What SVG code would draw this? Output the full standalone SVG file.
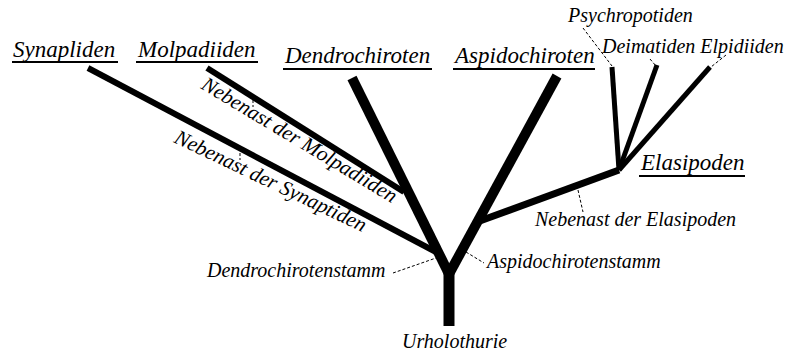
<svg xmlns="http://www.w3.org/2000/svg" width="786" height="353" viewBox="0 0 786 353">
<style>
.t{font-family:"Liberation Serif","DejaVu Serif",serif;font-style:italic;fill:#000}
.h{font-size:23px}
.l{font-size:20px}
.ul{stroke:#000;stroke-width:2}
.br{fill:none;stroke:#000;stroke-linejoin:round;stroke-linecap:butt}
.ld{fill:none;stroke:#000;stroke-width:1;stroke-dasharray:3 2}
</style>
<rect width="786" height="353" fill="#fff"/>
<g id="connectors">
<path class="br" stroke-width="11" d="M449,326 L449,272"/>
<path class="br" stroke-width="10" d="M449,274 L352,78"/>
<path class="br" stroke-width="10" d="M449,274 L557,76"/>
<path class="br" stroke-width="6" d="M88,68 L436,252"/>
<path class="br" stroke-width="6" d="M207,68 L404,192"/>
<path class="br" stroke-width="7" d="M477,222 L619,170"/>
<path class="br" stroke-width="5" d="M612,67 L619,170"/>
<path class="br" stroke-width="5" d="M657,65 L619,170"/>
<path class="br" stroke-width="5" d="M710,67 L619,170"/>
<path class="ld" d="M583,28 L612,66"/>
<path class="ld" d="M650,59 L656,66"/>
<path class="ld" d="M726,55 L711,67"/>
<path class="ld" d="M578,190 L583,212"/>
<path class="ld" d="M466,252 L484,263"/>
<path class="ld" d="M393,273 L436,258"/>
<path class="ld" d="M253,100 L253,107"/>
<path class="ld" d="M240,153 L240,160"/>
</g>
<g id="synapliden"><text class="t h" x="13" y="57">Synapliden</text><line class="ul" x1="12" y1="62" x2="118" y2="62"/></g>
<g id="molpadiiden"><text class="t h" x="138" y="57">Molpadiiden</text><line class="ul" x1="136" y1="62" x2="258" y2="62"/></g>
<g id="dendrochiroten"><text class="t h" x="285" y="63">Dendrochiroten</text><line class="ul" x1="283" y1="69" x2="432" y2="69"/></g>
<g id="aspidochiroten"><text class="t h" x="455" y="63">Aspidochiroten</text><line class="ul" x1="453" y1="69" x2="595" y2="69"/></g>
<g id="elasipoden"><text class="t h" x="641" y="170">Elasipoden</text><line class="ul" x1="639" y1="176" x2="745" y2="176"/></g>
<g id="psychropotiden"><text class="t l" x="568" y="22">Psychropotiden</text></g>
<g id="deimatiden-elpidiiden"><text class="t l" x="602" y="53">Deimatiden Elpidiiden</text></g>
<g id="nebenast-elasipoden"><text class="t l" x="535" y="226">Nebenast der Elasipoden</text></g>
<g id="aspidochirotenstamm"><text class="t l" x="487" y="268">Aspidochirotenstamm</text></g>
<g id="dendrochirotenstamm"><text class="t l" x="207" y="277">Dendrochirotenstamm</text></g>
<g id="urholothurie"><text class="t l" x="402" y="348">Urholothurie</text></g>
<g id="nebenast-molpadiiden"><text class="t" font-size="21" transform="translate(200,88) rotate(31)">Nebenast der Molpadiiden</text></g>
<g id="nebenast-synaptiden"><text class="t" font-size="21" transform="translate(173,142) rotate(25.5)">Nebenast der Synaptiden</text></g>
</svg>
